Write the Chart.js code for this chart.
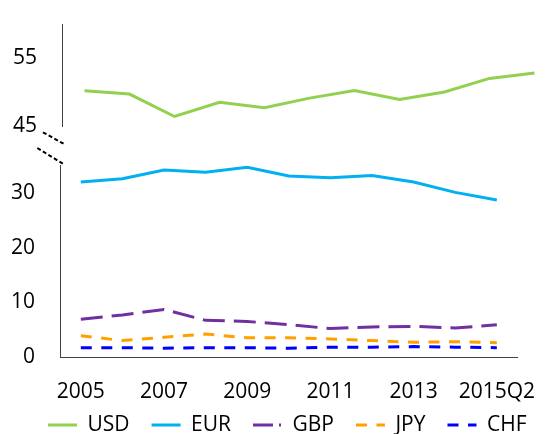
<!DOCTYPE html>
<html>
<head>
<meta charset="utf-8">
<script src="https://cdn.jsdelivr.net/npm/chart.js@4"></script>
<style>
  html, body { margin: 0; padding: 0; background: #ffffff; overflow: hidden; }
  #wrap { position: relative; width: 558px; height: 434px; overflow: hidden; }
  #top { position: absolute; left: 0; top: 0; }
  #bottom { position: absolute; left: 0; top: 128px; }
</style>
</head>
<body>
<div id="wrap">
  <canvas id="top" width="558" height="140"></canvas>
  <canvas id="bottom" width="558" height="332"></canvas>
</div>
<script>
// ---- data ----
const categories = ['2005','2006','2007','2008','2009','2010','2011','2012','2013','2014','2015Q2'];
const shownLabels = ['2005','2007','2009','2011','2013','2015Q2'];
const usd = [50.2, 49.7, 46.4, 48.5, 47.7, 49.1, 50.2, 48.9, 50.0, 52.0, 52.8];
const eur = [32.0, 32.6, 34.2, 33.8, 34.7, 33.1, 32.8, 33.2, 32.0, 30.1, 28.7];
const gbp = [6.9, 7.7, 8.7, 6.7, 6.5, 5.9, 5.2, 5.5, 5.6, 5.3, 5.9];
const jpy = [3.9, 3.0, 3.6, 4.2, 3.5, 3.5, 3.3, 3.0, 2.7, 2.8, 2.6];
const chf = [1.7, 1.7, 1.6, 1.7, 1.7, 1.6, 1.8, 1.8, 1.9, 1.8, 1.7];
const topTicks = [45, 55];
const bottomTicks = [0, 10, 20, 30];
const topRange = [45, 60];
const bottomRange = [0, 35];

// ---- styles ----
const FONT = "'Open Sans', 'Noto Sans', sans-serif";
const styles = {
  USD: { color: '#92D050', dash: [], legendDash: [] },
  EUR: { color: '#00B0F0', dash: [], legendDash: [] },
  GBP: { color: '#7030A0', dash: [22, 9], legendDash: [20, 6, 2, 10] },
  JPY: { color: '#FFA000', dash: [11, 9.5], legendDash: [11, 9.5] },
  CHF: { color: '#0000FF', dash: [11, 9.5], legendDash: [11, 9.5] }
};
const AXIS_COLOR = '#404040';

function ds(label, data) {
  return {
    label, data,
    borderColor: styles[label].color,
    backgroundColor: styles[label].color,
    borderDash: styles[label].dash,
    borderWidth: 3,
    pointRadius: 0,
    tension: 0,
    fill: false
  };
}

function noPad(scale) {
  scale.paddingTop = 0; scale.paddingBottom = 0;
  scale.paddingLeft = 0; scale.paddingRight = 0;
}

Chart.defaults.font.family = FONT;
Chart.defaults.color = '#000000';
Chart.defaults.animation = false;

// ---- top panel (USD) ----
new Chart(document.getElementById('top'), {
  type: 'line',
  data: { labels: categories, datasets: [ds('USD', usd)] },
  options: {
    responsive: false,
    animation: false,
    layout: { padding: { top: 24, bottom: 14, left: 0, right: 1 } },
    plugins: { legend: { display: false }, tooltip: { enabled: false } },
    scales: {
      x: { type: 'category', display: false, offset: true },
      y: {
        min: topRange[0], max: topRange[1],
        grid: { display: false, drawTicks: false },
        border: { display: true, color: AXIS_COLOR, width: 1 },
        ticks: { font: { size: 21 }, padding: 25, color: '#000' },
        afterBuildTicks: (axis) => { axis.ticks = topTicks.map(v => ({ value: v })); },
        afterFit: (scale) => { scale.width = 62; noPad(scale); }
      }
    }
  }
});

// ---- break marks plugin ----
const breakMarks = {
  id: 'breakMarks',
  afterDraw(chart) {
    const { ctx, chartArea } = chart;
    const L = chartArea.left, T = chartArea.top;
    ctx.save();
    ctx.strokeStyle = '#000';
    ctx.lineWidth = 2;
    ctx.setLineDash([4, 2.5]);
    ctx.beginPath();
    ctx.moveTo(L - 17, T - 33.3);
    ctx.lineTo(L + 4, T - 21.6);
    ctx.moveTo(L - 22.7, T - 17.6);
    ctx.lineTo(L + 3.3, T - 1.6);
    ctx.stroke();
    ctx.restore();
  }
};

// ---- legend placement plugin ----
const LEGEND_START = 48;
const LEGEND_CENTER_Y = 297;
const legendPlace = {
  id: 'legendPlace',
  afterLayout(chart) {
    const lg = chart.legend;
    if (!lg) return;
    const pad = lg.options.labels.padding;
    const fs = lg.options.labels.font.size;
    const h = lg.height;
    lg.left = LEGEND_START - pad;
    lg.right = chart.width;
    lg.top = LEGEND_CENTER_Y - pad - fs / 2;
    lg.bottom = lg.top + h;
  }
};

// ---- bottom panel ----
const legendOrder = ['USD', 'EUR', 'GBP', 'JPY', 'CHF'];
new Chart(document.getElementById('bottom'), {
  type: 'line',
  data: {
    labels: categories,
    datasets: [ds('EUR', eur), ds('GBP', gbp), ds('JPY', jpy), ds('CHF', chf)]
  },
  options: {
    responsive: false,
    animation: false,
    layout: { padding: { top: 35, bottom: 0, left: 0, right: 21.6 } },
    plugins: {
      tooltip: { enabled: false },
      legend: {
        display: true,
        position: 'bottom',
        align: 'start',
        onClick: null,
        labels: {
          usePointStyle: true,
          pointStyle: 'line',
          pointStyleWidth: 29,
          boxWidth: 29,
          boxHeight: 21,
          padding: 22,
          font: { size: 21 },
          color: '#000',
          generateLabels: () => legendOrder.map(name => ({
            text: name,
            fillStyle: styles[name].color,
            strokeStyle: styles[name].color,
            lineWidth: 3,
            lineDash: styles[name].legendDash,
            pointStyle: 'line',
            hidden: false,
            fontColor: '#000'
          }))
        }
      }
    },
    scales: {
      x: {
        type: 'category',
        offset: true,
        grid: { display: false, drawTicks: false },
        border: { display: true, color: AXIS_COLOR, width: 1 },
        ticks: {
          autoSkip: false,
          maxRotation: 0,
          font: { size: 21 },
          padding: 22,
          color: '#000',
          callback: function(value) {
            const lab = this.getLabelForValue(value);
            return shownLabels.includes(lab) ? lab : '';
          }
        },
        afterFit: (scale) => { scale.height = 50; }
      },
      y: {
        min: bottomRange[0], max: bottomRange[1],
        grid: { display: false, drawTicks: false },
        border: { display: true, color: AXIS_COLOR, width: 1 },
        ticks: { font: { size: 21 }, padding: 25, color: '#000' },
        afterBuildTicks: (axis) => { axis.ticks = bottomTicks.map(v => ({ value: v })); },
        afterFit: (scale) => { scale.width = 60; }
      }
    }
  },
  plugins: [breakMarks, legendPlace]
});
</script>
</body>
</html>
